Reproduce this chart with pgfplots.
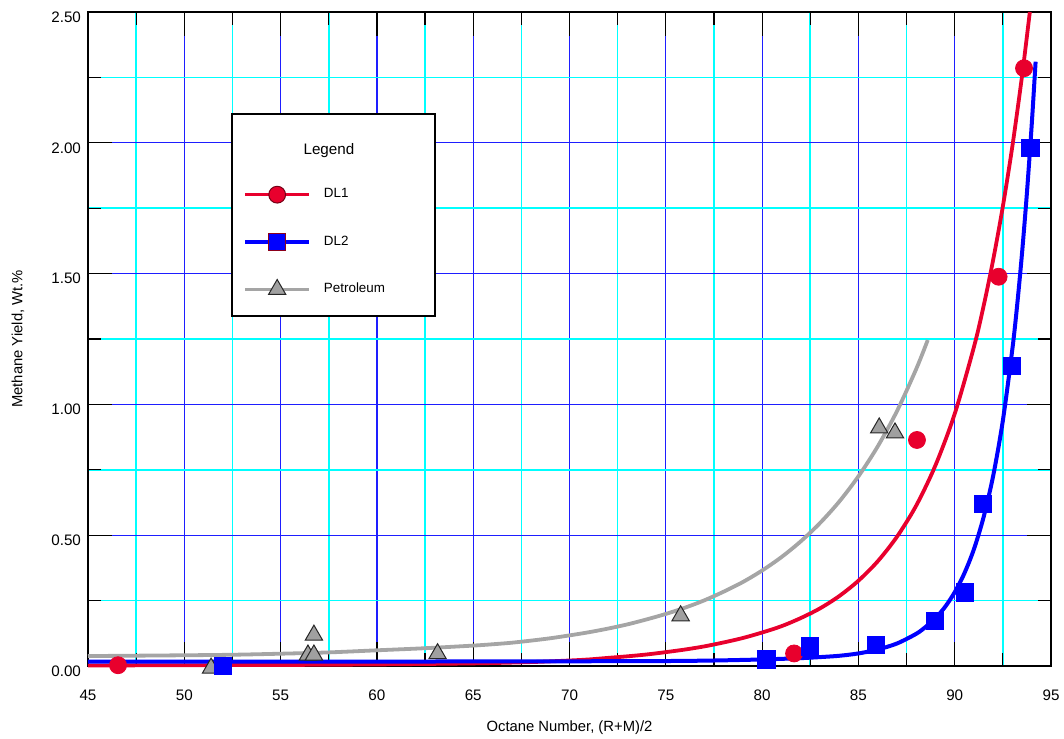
\documentclass[border=0pt]{standalone}
\usepackage{fontspec}
\setmainfont{Liberation Sans}
\usepackage{pgfplots}
\pgfplotsset{compat=1.18}
\definecolor{dlred}{RGB}{232,0,45}
\definecolor{dlblue}{RGB}{0,0,255}
\definecolor{petgrey}{RGB}{165,165,165}
\definecolor{markgrey}{RGB}{160,160,160}
\definecolor{gridcyan}{RGB}{0,255,255}
\definecolor{gridblue}{RGB}{30,30,255}
\begin{document}
\begin{tikzpicture}
\begin{axis}[
  scale only axis, width=481.5pt, height=327pt,
  xmin=45, xmax=95, ymin=0, ymax=2.5,
  clip=false,
  xtick={45,50,...,95}, ytick={0,0.5,1,1.5,2,2.5},
  minor x tick num=1, minor y tick num=1,
  grid=both,
  major grid style={gridblue, line width=0.6pt},
  minor grid style={gridcyan, line width=0.8pt},
  tick align=inside,
  major tick length=12pt, minor tick length=6.5pt,
  tick style={black, line width=0.6pt},
  axis line style={black, line width=0.8pt},
  ticklabel style={font=\fontsize{7.6}{9}\selectfont},
  /pgf/number format/assume math mode=true,
  yticklabel style={/pgf/number format/fixed, /pgf/number format/fixed zerofill, /pgf/number format/precision=2, yshift=-2.5pt},
  xticklabel style={yshift=-8.5pt},
  xlabel={Octane Number, (R+M)/2},
  ylabel={Methane Yield, Wt.\%},
  label style={font=\fontsize{7.4}{9}\selectfont},
  xlabel style={at={(axis description cs:0.5,-0.0945)}, anchor=center},
  ylabel style={at={(axis description cs:-0.0727,0.5)}, anchor=center},
  legend image code/.code={\draw[#1, mark repeat=2, mark phase=2] plot coordinates {(0pt,0pt) (16pt,0pt) (32pt,0pt)};},
  legend style={at={(axis description cs:0.1547,0.648)}, anchor=west, draw=none, fill=none,
    row sep=13.5pt, column sep=4.5pt, font=\fontsize{6.7}{8}\selectfont},
  legend cell align=left,
]
% fitted curves
\addplot[petgrey, line width=1.9pt, smooth, tension=0.5, forget plot] coordinates {
(45,0.038) (50,0.041) (52.5,0.043) (55,0.047) (57.5,0.052) (60,0.060) (62.5,0.068) (65,0.078)
(66,0.083) (67,0.089) (68,0.097) (69,0.106) (70,0.117) (71,0.129) (72,0.143) (73,0.159)
(74,0.178) (75,0.199) (76,0.223) (77,0.251) (78,0.284) (79,0.321) (80,0.365) (81,0.416)
(82,0.476) (83,0.546) (84,0.628) (85,0.725) (86,0.839) (87,0.974) (88,1.135) (88.6,1.246)};
\addplot[dlred, line width=1.9pt, smooth, tension=0.5, forget plot] coordinates {
(45,0.002) (50,0.003) (55,0.004) (60,0.006) (65,0.010) (68,0.015) (70,0.021) (71,0.025)
(72,0.031) (73,0.037) (74,0.044) (75,0.053) (76,0.063) (77,0.075) (78,0.090) (79,0.107)
(80,0.128) (81,0.152) (82,0.183) (83,0.220) (84,0.267) (85,0.326) (86,0.400) (87,0.494)
(88,0.613) (89,0.767) (90,0.964) (91,1.220) (91.5,1.376) (92,1.554) (92.5,1.757) (93,1.990)
(93.5,2.258) (93.9,2.5)};
\addplot[dlblue, line width=2pt, smooth, tension=0.5, forget plot] coordinates {
(45,0.017) (60,0.017) (70,0.018) (75,0.019) (77.5,0.021) (80,0.025) (82,0.030) (83,0.034)
(84,0.039) (85,0.048) (86,0.063) (87,0.086) (88,0.123) (88.5,0.150) (89,0.183) (89.5,0.226)
(90,0.282) (90.5,0.354) (91,0.447) (91.5,0.569) (92,0.728) (92.5,0.938) (93,1.215)
(93.25,1.385) (93.5,1.582) (93.75,1.809) (94,2.071) (94.2,2.31)};
% data points
\addplot[only marks, mark=triangle*, mark size=5pt, mark options={fill=markgrey, draw=black!85, line width=0.5pt}, forget plot] coordinates {
(51.39,-0.008) (56.42,0.042) (56.73,0.042) (56.73,0.118) (63.15,0.047) (75.77,0.192) (86.08,0.91) (86.9,0.891)};
\addplot[only marks, mark=*, mark size=4.25pt, mark options={fill=dlred, draw=dlred}, forget plot] coordinates {
(46.56,0.003) (81.66,0.048) (88.04,0.864) (92.28,1.488) (93.6,2.285)};
\addplot[only marks, mark=square*, mark size=4.4pt, mark options={fill=dlblue, draw=dlblue}, forget plot] coordinates {
(52.01,0.0) (80.22,0.026) (82.49,0.074) (85.91,0.080) (88.98,0.172) (90.53,0.282) (91.47,0.619) (92.97,1.147) (93.93,1.98)};
% legend frame and title
\draw[black, line width=0.6pt, fill=white] (axis cs:52.48,1.338) rectangle (axis cs:63.02,2.110);
\node[font=\fontsize{7.6}{9}\selectfont] at (axis cs:57.51,1.972) {Legend};
\addlegendimage{dlred, line width=1.8pt, mark=*, mark size=4.2pt, mark options={fill=dlred, draw=black!50!dlred, line width=0.5pt}}
\addlegendentry{DL1}
\addlegendimage{dlblue, line width=1.8pt, mark=square*, mark size=4.2pt, mark options={fill=dlblue, draw=black!40!dlred, line width=0.5pt}}
\addlegendentry{DL2}
\addlegendimage{petgrey, line width=1.8pt, mark=triangle*, mark size=5pt, mark options={fill=markgrey, draw=black!85, line width=0.5pt}}
\addlegendentry{Petroleum}
\coordinate (ll) at (rel axis cs:0,0);
\end{axis}
\pgfresetboundingbox
\path[use as bounding box] (ll) ++(-44pt,-36pt) rectangle ++(532pt,369pt);
\end{tikzpicture}
\end{document}
